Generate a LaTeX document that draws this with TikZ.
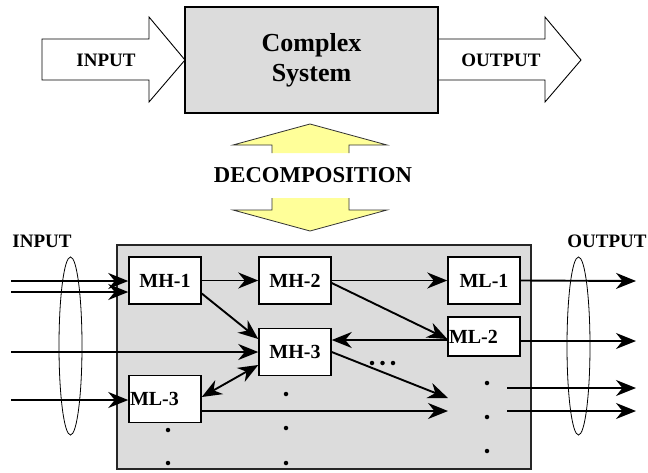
\documentclass[tikz,border=0pt]{standalone}
\usepackage{fontspec}
\setmainfont{Liberation Serif}
\usetikzlibrary{arrows.meta,shapes.geometric,calc}
\definecolor{boxgray}{HTML}{DCDCDC}
\definecolor{paleyellow}{HTML}{FFFF99}
\begin{document}
\begin{tikzpicture}[x=1pt,y=-1pt,
  lbl/.style={font=\bfseries\fontsize{19}{22}\selectfont, inner sep=0pt},
  mod/.style={draw=black, line width=1.5pt, fill=white, minimum width=72pt,
    minimum height=47pt, inner sep=0pt, font=\bfseries\fontsize{20}{22}\selectfont},
  modl/.style={mod, text width=70pt, align=left},
  flow/.style={line width=1.9pt, -{Stealth[length=20pt,width=16pt,inset=6.5pt]}},
  dflow/.style={line width=1.9pt, {Stealth[length=20pt,width=16pt,inset=6.5pt]}-{Stealth[length=20pt,width=16pt,inset=6.5pt]}},
  fatarrow/.style={draw=black, line width=0.9pt, fill=white},
  bundle/.style={draw=black, line width=0.8pt, ellipse, minimum width=23pt,
    minimum height=178pt, inner sep=0pt},
  dot/.style={circle, fill=black, inner sep=0pt, minimum size=4.5pt}
]
\useasboundingbox (0,0) rectangle (648,472);

% ---------- upper part: the system as a black box ----------
\draw[fatarrow] (42,39) -- (149,39) -- (149,17) -- (185,60) -- (149,102)
  -- (149,80) -- (42,80) -- cycle;
\draw[fatarrow] (438,39) -- (545,39) -- (545,17) -- (581,60) -- (545,102)
  -- (545,80) -- (438,80) -- cycle;
\node[draw=black, line width=2.4pt, fill=boxgray, minimum width=253pt,
  minimum height=106pt, align=center,
  font=\bfseries\fontsize{26}{30}\selectfont] (sys) at (311.5,60)
  {Complex\\System};
\node[lbl] (inlbl) at (106,60) {INPUT};
\node[lbl] (outlbl) at (501,60) {OUTPUT};

% ---------- decomposition arrows ----------
\fill[paleyellow] (272,153) -- (272,145) -- (233,145) -- (310,124) -- (387,145)
  -- (349,145) -- (349,153) -- cycle;
\draw[line width=0.8pt, black!80] (272,153) -- (272,145) -- (233,145) -- (310,124)
  -- (387,145) -- (349,145) -- (349,153);
\fill[paleyellow] (272,198) -- (272,210) -- (233,210) -- (310,231) -- (387,210)
  -- (349,210) -- (349,198) -- cycle;
\draw[line width=0.8pt, black!80] (272,198) -- (272,210) -- (233,210) -- (310,231)
  -- (387,210) -- (349,210) -- (349,198);
\node[font=\bfseries\fontsize{22.7}{26}\selectfont, inner sep=0pt] (dec)
  at (313,175) {DECOMPOSITION};

% ---------- lower part: the decomposed system ----------
\node[draw=black!85, line width=1.3pt, fill=boxgray, minimum width=414pt,
  minimum height=224pt] (inner) at (324,357) {};

\node[lbl] (inlbl2) at (42,241) {INPUT};
\node[lbl] (outlbl2) at (607,241) {OUTPUT};

\node[bundle] (inbundle) at (70.5,346) {};
\node[bundle] (outbundle) at (578.5,346) {};

\node[mod] (mh1) at (165,280.5) {MH-1};
\node[mod] (mh2) at (295,280.5) {MH-2};
\node[mod] (mh3) at (295,352) {MH-3};
\node[modl] (ml3) at (165,399) {ML-3};
\node[mod] (ml1) at (484,280.5) {ML-1};
\node[modl, minimum height=39pt] (ml2) at (484,336.5) {ML-2};

% free ends of the signal lines
\coordinate (i1) at (11,281);
\coordinate (i2) at (11,292);
\coordinate (i3) at (11,352);
\coordinate (i4) at (11,400);
\coordinate (o1) at (636,281);
\coordinate (o2) at (636,341);
\coordinate (o3s) at (507,388);
\coordinate (o3) at (636,388);
\coordinate (o4s) at (507,411);
\coordinate (o4) at (636,411);
\coordinate (d1) at (448,398);
\coordinate (d2) at (448,411);

% inputs
\draw[flow] (i1) -- (mh1.west |- i1);
\draw[flow] (i2) -- (mh1.west |- i2);
\draw[flow] (i3) -- (mh3.west |- i3);
\draw[flow] (i4) -- (ml3.west |- i4);

% internal links
\draw[flow] (mh1.east) -- (mh2.west);
\draw[flow] ([yshift=-13pt]mh1.east) -- ([yshift=13pt]mh3.west);
\draw[dflow] ([yshift=2pt]ml3.east) -- ([yshift=-13pt]mh3.west);
\draw[flow] ([yshift=-12pt]ml3.east) -- (d2);
\draw[flow] (mh2.east) -- (ml1.west);
\draw[flow] ([yshift=-2.5pt]mh2.east) -- ([yshift=-2.5pt]ml2.west);
\draw[flow] ([yshift=-3.5pt]ml2.west) -- ([yshift=12pt]mh3.east);
\draw[flow] (mh3.east) -- (d1);

% outputs
\draw[flow] (ml1.east) -- (o1);
\draw[flow] ([yshift=-4.5pt]ml2.east) -- (o2);
\draw[flow] (o3s) -- (o3);
\draw[flow] (o4s) -- (o4);

% ellipsis marks
\node[dot] (e1) at (372,363) {};
\node[dot] (e2) at (382.5,363) {};
\node[dot] (e3) at (393,363) {};
\node[dot] (r1) at (487,383) {};
\node[dot] (r2) at (487,417) {};
\node[dot] (r3) at (487,451) {};
\node[dot] (m1) at (286,394) {};
\node[dot] (m2) at (286,428) {};
\node[dot] (m3) at (286,463) {};
\node[dot] (l1) at (168,430) {};
\node[dot] (l2) at (168,463) {};
\end{tikzpicture}
\end{document}
